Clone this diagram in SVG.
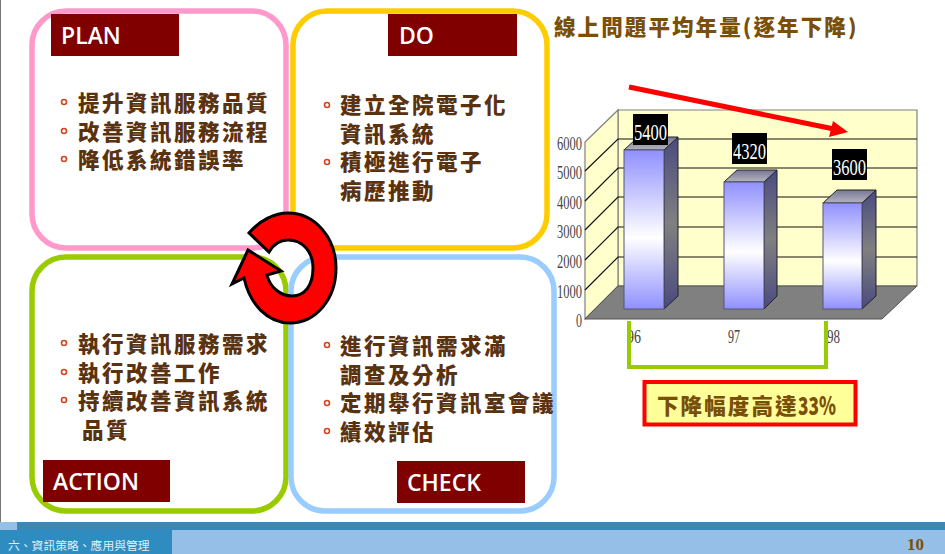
<svg xmlns="http://www.w3.org/2000/svg" width="945" height="554" viewBox="0 0 945 554">
<style>
.box{fill:#fff;stroke-width:5.5}
.hd{fill:#800000}
.hdt{font:600 23px "Open Sans","Liberation Sans",sans-serif;fill:#fff}
.t{font:900 21.5px "Noto Sans CJK TC",sans-serif;fill:#5a3210;letter-spacing:2.5px}
.b{fill:none;stroke:#d2451e;stroke-width:1.6}
.ax{font:18px "Liberation Serif",serif;fill:#444}
.val{font:24px "Liberation Serif",serif;fill:#fff}
.grid{stroke:#111;stroke-width:1.2;fill:none}
.front{stroke:#555577;stroke-width:1}
.edge{stroke:#222;stroke-width:1}
</style>
<defs>
<linearGradient id="gf" x1="0" y1="0" x2="0" y2="1"><stop offset="0" stop-color="#9090ff"/><stop offset=".55" stop-color="#fff"/><stop offset="1" stop-color="#9090ff"/></linearGradient>
<linearGradient id="gs" x1="0" y1="0" x2="0" y2="1"><stop offset="0" stop-color="#4a4a80"/><stop offset=".5" stop-color="#808080"/><stop offset="1" stop-color="#4a4a80"/></linearGradient>
<linearGradient id="gt" x1="0" y1="0" x2="0" y2="1"><stop offset="0" stop-color="#777799"/><stop offset="1" stop-color="#b4b4bc"/></linearGradient>
</defs>
<rect width="945" height="554" fill="#fff"/>
<rect x="0" y="0" width="1" height="522" fill="#777"/>
<g id="footer">
<rect x="0" y="522" width="945" height="8" fill="#3a88b8"/>
<rect x="0" y="522" width="17" height="8" fill="#94bfe6"/>
<rect x="0" y="530" width="945" height="24" fill="#95bfe6"/>
<rect x="0" y="530" width="172" height="24" fill="#2e8cc0"/>
<text x="8" y="550" style="font:11.800px 'Noto Sans CJK TC',sans-serif;fill:#dff0fa">六、資訊策略、應用與管理</text>
<text x="907" y="550" style="font:bold 17px 'Liberation Serif',serif;fill:#7a4f08">10</text>
</g>
<g id="plan">
<rect class="box" x="32" y="11" width="254" height="237" rx="34" stroke="#ff99cc"/>
<rect class="hd" x="51" y="14" width="128" height="42"/>
<text class="hdt" x="61" y="44">PLAN</text>
<circle class="b" cx="64" cy="102" r="2.5"/><circle class="b" cx="64" cy="131" r="2.5"/><circle class="b" cx="64" cy="159" r="2.5"/>
<text class="t" x="78" y="111">提升資訊服務品質</text>
<text class="t" x="78" y="140">改善資訊服務流程</text>
<text class="t" x="78" y="168">降低系統錯誤率</text>
</g>
<g id="do">
<rect class="box" x="293" y="11" width="254" height="237" rx="34" stroke="#ffcc00"/>
<rect class="hd" x="388" y="14" width="129" height="42"/>
<text class="hdt" x="399" y="44">DO</text>
<circle class="b" cx="327" cy="105" r="2.5"/><circle class="b" cx="327" cy="162" r="2.5"/>
<text class="t" x="340" y="113">建立全院電子化</text>
<text class="t" x="340" y="142">資訊系統</text>
<text class="t" x="340" y="170">積極進行電子</text>
<text class="t" x="340" y="199">病歷推動</text>
</g>
<g id="action">
<rect class="box" x="32" y="257" width="254" height="254" rx="34" stroke="#99cc00"/>
<rect class="hd" x="43" y="460" width="127" height="42"/>
<text class="hdt" x="53" y="490">ACTION</text>
<circle class="b" cx="64" cy="343" r="2.5"/><circle class="b" cx="64" cy="372" r="2.5"/><circle class="b" cx="64" cy="400" r="2.5"/>
<text class="t" x="78" y="352">執行資訊服務需求</text>
<text class="t" x="78" y="381">執行改善工作</text>
<text class="t" x="78" y="409">持續改善資訊系統</text>
<text class="t" x="82" y="438">品質</text>
</g>
<g id="check">
<rect class="box" x="291" y="257" width="263" height="254" rx="34" stroke="#99ccff"/>
<rect class="hd" x="397" y="461" width="128" height="42"/>
<text class="hdt" x="407" y="491">CHECK</text>
<circle class="b" cx="327" cy="345" r="2.5"/><circle class="b" cx="327" cy="403" r="2.5"/><circle class="b" cx="327" cy="431" r="2.5"/>
<text class="t" x="340" y="354">進行資訊需求滿</text>
<text class="t" x="340" y="383">調查及分析</text>
<text class="t" x="340" y="411">定期舉行資訊室會議</text>
<text class="t" x="340" y="440">績效評估</text>
</g>
<g id="title"><text x="554" y="35" style="font:900 21.5px 'Noto Sans CJK TC',sans-serif;fill:#7a4f08;letter-spacing:2.1px">線上問題平均年量(逐年下降)</text></g>
<g id="chart">
<polygon points="618,110 917,110 917,286 618,286" fill="#ffffcc" stroke="#808080" stroke-width="1.2"/>
<polygon points="585,142 618,110 618,286 585,319" fill="#ffffcc" stroke="#808080" stroke-width="1.2"/>
<path class="grid" d="M585,171L618,139H917M585,201L618,168H917M585,230L618,197H917M585,260L618,227H917M585,290L618,257H917"/>
<polygon points="585,319 618,286 917,286 882,319" fill="#808080" stroke="#555" stroke-width="1"/>
<g class="ax" text-anchor="end">
<text x="582" y="150" textLength="25" lengthAdjust="spacingAndGlyphs">6000</text>
<text x="582" y="179" textLength="25" lengthAdjust="spacingAndGlyphs">5000</text>
<text x="582" y="209" textLength="25" lengthAdjust="spacingAndGlyphs">4000</text>
<text x="582" y="238" textLength="25" lengthAdjust="spacingAndGlyphs">3000</text>
<text x="582" y="268" textLength="25" lengthAdjust="spacingAndGlyphs">2000</text>
<text x="582" y="298" textLength="25" lengthAdjust="spacingAndGlyphs">1000</text>
<text x="582" y="327" textLength="6" lengthAdjust="spacingAndGlyphs">0</text>
</g>
<g class="ax">
<text x="627" y="343" textLength="14" lengthAdjust="spacingAndGlyphs">96</text>
<text x="728" y="343" textLength="12" lengthAdjust="spacingAndGlyphs">97</text>
<text x="827" y="343" textLength="13" lengthAdjust="spacingAndGlyphs">98</text>
</g>
<g id="bar96">
<polygon class="edge" points="664,150 678,137 678,296 664,309" fill="url(#gs)"/>
<polygon class="edge" points="624,150 638,137 678,137 664,150" fill="url(#gt)"/>
<rect class="front" x="624" y="150" width="40" height="159" fill="url(#gf)"/>
</g>
<g id="bar97">
<polygon class="edge" points="764,182 777,170 777,296 764,309" fill="url(#gs)"/>
<polygon class="edge" points="724,182 737,170 777,170 764,182" fill="url(#gt)"/>
<rect class="front" x="724" y="182" width="40" height="127" fill="url(#gf)"/>
</g>
<g id="bar98">
<polygon class="edge" points="862,203 876,190 876,296 862,309" fill="url(#gs)"/>
<polygon class="edge" points="823,203 837,190 876,190 862,203" fill="url(#gt)"/>
<rect class="front" x="823" y="203" width="39" height="106" fill="url(#gf)"/>
</g>
<rect x="633" y="114" width="35" height="31" fill="#000"/><text class="val" x="634" y="140" textLength="33" lengthAdjust="spacingAndGlyphs">5400</text>
<rect x="732" y="133" width="35" height="31" fill="#000"/><text class="val" x="733" y="159" textLength="33" lengthAdjust="spacingAndGlyphs">4320</text>
<rect x="832" y="149" width="35" height="31" fill="#000"/><text class="val" x="833" y="175" textLength="33" lengthAdjust="spacingAndGlyphs">3600</text>
</g>
<g id="drop-label">
<rect x="644.500" y="382" width="211" height="42.500" fill="#ffff99" stroke="#ff0000" stroke-width="4"/>
<text x="657" y="414" style="font:900 21.5px 'Noto Sans CJK TC',sans-serif;fill:#7a4f08;letter-spacing:2.100px">下降幅度高達</text>
<text x="798" y="415" textLength="38" lengthAdjust="spacingAndGlyphs" style="font:900 25px 'Noto Sans CJK TC',sans-serif;fill:#7a4f08">33%</text>
</g>
<g id="connectors">
<path d="M629,321V367H826V321" fill="none" stroke="#99cc00" stroke-width="4"/>
<path d="M629,87L834,129" fill="none" stroke="#ff0000" stroke-width="5"/>
<polygon points="848,132 833,121 829,137" fill="#ff0000"/>
<path d="M249,233C260,220 275,213 288,213C315,213 336,238 336,268C336,300 315,323 290,323C268,323 250,305 244,278L232,284L248,250L281,271L267,275C270,287 280,296 292,296C305,296 313,285 313,268C313,252 303,240 288,240C280,240 273,245 269,252Z" fill="#ff0000" stroke="#000" stroke-width="3" stroke-linejoin="miter"/>
</g>
</svg>
